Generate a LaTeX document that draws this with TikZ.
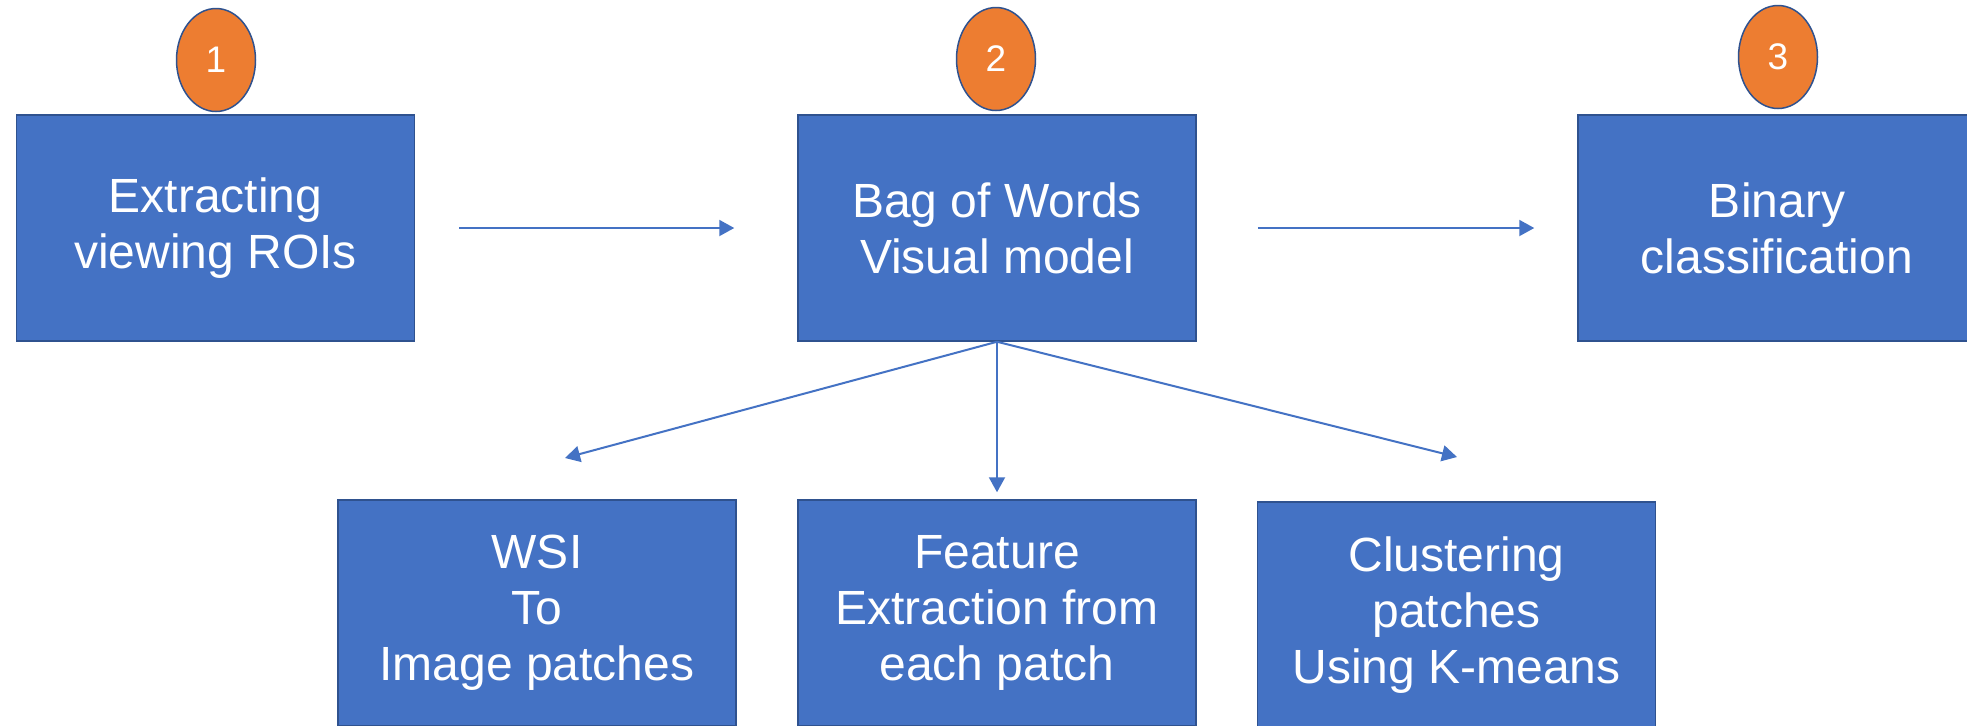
\documentclass[tikz,border=0pt]{standalone}
\usepackage{fontspec}
\setmainfont{Liberation Sans}
\usetikzlibrary{arrows.meta, shapes.geometric}
\definecolor{boxblue}{HTML}{4472C4}
\definecolor{edgeblue}{HTML}{2F528F}
\definecolor{numorange}{HTML}{ED7D31}
\tikzset{ box/.style = { rectangle
                       , draw         = edgeblue
                       , fill         = boxblue
                       , line width   = 0.75pt
                       , text         = white
                       , align        = center
                       , minimum width  = 199pt
                       , minimum height = 113pt
                       , font = \fontsize{24pt}{28pt}\selectfont
                       },
          num/.style = { ellipse
                       , draw         = edgeblue
                       , fill         = numorange
                       , line width   = 0.75pt
                       , text         = white
                       , inner sep    = 0pt
                       , minimum width  = 39.5pt
                       , minimum height = 51.5pt
                       , font = \fontsize{18.5pt}{22pt}\selectfont
                       },
          go/.style  = { draw = boxblue
                       , line width = 1pt
                       , -{Triangle[length=7.5pt, width=8pt]}
                       }
        }

\begin{document}
\begin{tikzpicture}[x=0.5pt, y=-0.5pt]
    \useasboundingbox[fill=white] (0,0) rectangle (1967,725);
    \node[box] (s1) at ( 215.5,228) {Extracting\\viewing ROIs};
    \node[box] (s2) at ( 997,  228) {Bag of Words\\Visual model};
    \node[box] (s3) at (1777,  228) {Binary\\classification};
    \node[box] (t1) at ( 537,  613) {WSI\\To\\Image patches};
    \node[box] (t2) at ( 997,  613) {Feature\\Extraction from\\each patch};
    \node[box] (t3) at (1456.5,615) {Clustering\\patches\\Using K-means};
    \foreach \n/\x/\y in {1/216/60, 2/996/59, 3/1778/57} {
      \node[num] (n\n) at (\x,\y) {\n};
    }
    \coordinate (tl) at ( 565,458);
    \coordinate (tr) at (1457,457);
    \draw[go, shorten <=22pt,   shorten >=31.5pt] (s1.east) -- (s2.west);
    \draw[go, shorten <=30.5pt, shorten >=21.5pt] (s2.east) -- (s3.west);
    \draw[go] (s2.south) -- (tl);
    \draw[go] (s2.south) -- (tr);
    \draw[go, shorten >=3.5pt] (s2.south) -- (t2.north);
\end{tikzpicture}
\end{document}
